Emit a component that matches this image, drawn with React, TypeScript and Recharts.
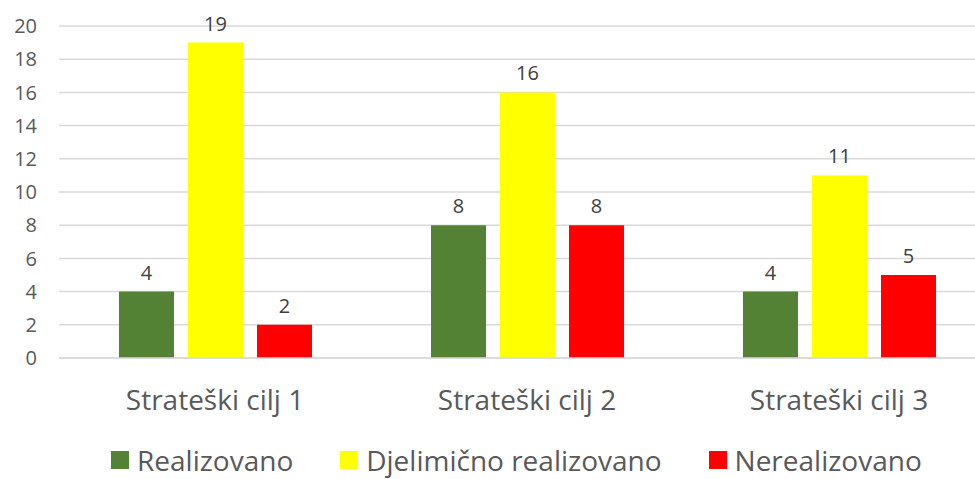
import React from 'react'
import { BarChart, Bar, XAxis, YAxis, CartesianGrid, Legend, LabelList } from 'recharts'

const categories = ['Strateški cilj 1', 'Strateški cilj 2', 'Strateški cilj 3']
const realizovano = [4, 8, 4]
const djelimicno = [19, 16, 11]
const nerealizovano = [2, 8, 5]
const yTicks = [0, 2, 4, 6, 8, 10, 12, 14, 16, 18, 20]

const series = [
  { key: 'realizovano', name: 'Realizovano', color: '#548235' },
  { key: 'djelimicno', name: 'Djelimično realizovano', color: '#FFFF00' },
  { key: 'nerealizovano', name: 'Nerealizovano', color: '#FF0000' }
]

const data = categories.map((name, i) => ({
  name,
  realizovano: realizovano[i],
  djelimicno: djelimicno[i],
  nerealizovano: nerealizovano[i]
}))

const FONT = '"Open Sans", sans-serif'

function CustomLegend() {
  return (
    <div
      style={{
        display: 'flex',
        alignItems: 'center',
        height: 38,
        paddingLeft: 111,
        fontFamily: FONT,
        fontSize: 28,
        color: '#595959'
      }}
    >
      {series.map(s => (
        <div key={s.key} style={{ display: 'flex', alignItems: 'center', marginRight: 47 }}>
          <span style={{ width: 18, height: 18, background: s.color, marginRight: 8, display: 'inline-block' }} />
          <span style={{ lineHeight: '38px', whiteSpace: 'nowrap' }}>{s.name}</span>
        </div>
      ))}
    </div>
  )
}

export default function App() {
  return (
    <div style={{ position: 'absolute', left: 0, top: 0, width: 975, height: 479, overflow: 'hidden', background: '#fff' }}>
      <BarChart
        width={1000}
        height={479}
        data={data}
        margin={{ top: 26, right: 5, left: 0, bottom: 0 }}
        barSize={55}
        barGap={14}
      >
        <CartesianGrid vertical={false} stroke="#d9d9d9" strokeWidth={1.5} />
        <XAxis
          dataKey="name"
          height={83}
          tickLine={false}
          tickSize={0}
          tickMargin={32}
          axisLine={{ stroke: '#d9d9d9', strokeWidth: 1.5 }}
          tick={{ fill: '#595959', fontSize: 28, fontFamily: FONT }}
        />
        <YAxis
          width={59}
          domain={[0, 20]}
          ticks={yTicks}
          interval={0}
          axisLine={false}
          tickLine={false}
          tickSize={0}
          tickMargin={22}
          tick={{ fill: '#595959', fontSize: 20, fontFamily: FONT }}
        />
        <Legend
          verticalAlign="bottom"
          content={<CustomLegend />}
          wrapperStyle={{ left: 0, width: 975, bottom: 0 }}
        />
        {series.map(s => (
          <Bar key={s.key} dataKey={s.key} name={s.name} fill={s.color} isAnimationActive={false}>
            <LabelList
              dataKey={s.key}
              position="top"
              offset={12}
              fill="#404040"
              fontSize={20}
              fontFamily={FONT}
            />
          </Bar>
        ))}
      </BarChart>
    </div>
  )
}
